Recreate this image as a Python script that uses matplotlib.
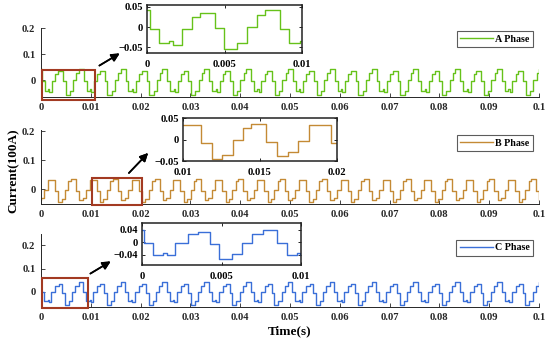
import numpy as np
import matplotlib
matplotlib.use("Agg")
import matplotlib.pyplot as plt
from matplotlib.patches import Rectangle

plt.rcParams['font.family'] = ['Liberation Serif', 'DejaVu Serif']
plt.rcParams['font.weight'] = 'bold'
plt.rcParams['axes.labelweight'] = 'bold'

# ---- data (two consecutive cycles per phase, ms / per-unit current) ----
phase_names = ['A Phase', 'B Phase', 'C Phase']
phase_colors = ['#66C21A', '#C48A35', '#3A6FD8']

a_start = 0.2 - 8.4
a_durs = [0.55, 0.70, 0.25, 0.55, 0.65, 0.55, 0.95,
          0.55, 0.85, 0.65, 0.65, 0.50, 1.00]
a_levels = [-0.004, -0.040, -0.035, -0.046, -0.004, 0.026, 0.034,
            -0.003, -0.056, -0.040, 0.000, 0.030, 0.042]

b_start = 11.2 - 16.8
b_durs = [0.70, 0.65, 0.70, 0.65, 0.50, 1.00,
          0.70, 0.70, 0.70, 0.70, 1.40]
b_levels = [-0.007, -0.045, -0.035, -0.002, 0.027, 0.035,
            -0.006, -0.038, -0.030, -0.004, 0.033]

c_start = 0.1 - 8.4
c_durs = [0.60, 0.65, 0.20, 0.55, 0.80, 0.65, 0.75,
          0.55, 0.80, 0.65, 0.60, 0.70, 0.90]
c_levels = [-0.002, -0.040, -0.036, -0.041, -0.002, 0.026, 0.034,
            -0.005, -0.056, -0.039, -0.002, 0.026, 0.041]

main_xticks = [0, 0.01, 0.02, 0.03, 0.04, 0.05, 0.06, 0.07, 0.08, 0.09, 0.1]
main_xticklabels = ['0', '0.01', '0.02', '0.03', '0.04', '0.05', '0.06', '0.07', '0.08', '0.09', '0.1']
main_yticks = [0, 0.1, 0.2]
main_yticklabels = ['0', '0.1', '0.2']

inset_xlims = [(0, 0.01), (0.01, 0.02), (0, 0.01)]
inset_xticks = [[0, 0.005, 0.01], [0.01, 0.015, 0.02], [0, 0.005, 0.01]]
inset_xticklabels = [['0', '0.005', '0.01'], ['0.01', '0.015', '0.02'], ['0', '0.005', '0.01']]
inset_yticks = [[-0.05, 0, 0.05], [-0.05, 0, 0.05], [-0.04, 0, 0.04]]
inset_yticklabels = [['\u22120.05', '0', '0.05'], ['\u22120.05', '0', '0.05'], ['\u22120.04', '0', '0.04']]


def build_steps(start, durs, levels, t_end=101.0):
    durs = np.asarray(durs)
    levels = np.asarray(levels)
    period = durs.sum()
    n = int(np.ceil((t_end - start) / period)) + 1
    d = np.tile(durs, n)
    v = np.tile(levels, n)
    t = start + np.concatenate([[0], np.cumsum(d)])
    v = np.append(v, v[-1])
    return t / 1000.0, v


series = [build_steps(a_start, a_durs, a_levels),
          build_steps(b_start, b_durs, b_levels),
          build_steps(c_start, c_durs, c_levels)]

fig = plt.figure(figsize=(5.5, 3.42), dpi=100)

main_pos = [[0.0745, 0.7164, 0.9055, 0.2016],
            [0.0745, 0.4035, 0.9055, 0.2164],
            [0.0745, 0.1023, 0.9055, 0.2135]]
main_ylims = [(-0.064, 0.201), (-0.052, 0.205), (-0.064, 0.247)]
legend_tops = [0.957, 0.932, 0.918]

inset_pos = [[0.2673, 0.8450, 0.2818, 0.1404],
             [0.3327, 0.5292, 0.2800, 0.1257],
             [0.2582, 0.2251, 0.2891, 0.1228]]
inset_ylims = [(-0.065, 0.055), (-0.05, 0.048), (-0.074, 0.062)]

rects = [(0.0003, -0.0755, 0.0105, 0.1152),
         (0.0102, -0.0555, 0.0101, 0.0938),
         (0.0002, -0.068, 0.0092, 0.129)]

arrows = [((97, 67), (122, 52)),
          ((127, 175), (150, 151)),
          ((88, 275), (113, 260))]

rect_color = '#A33A22'
spine_col = '#262626'

for i in range(3):
    t, v = series[i]
    ax = fig.add_axes(main_pos[i])
    ax.plot(t, v, color=phase_colors[i], lw=1.0, drawstyle='steps-post', label=phase_names[i])
    ax.set_xlim(0, 0.1)
    ax.set_ylim(*main_ylims[i])
    ax.set_xticks(main_xticks)
    ax.set_xticklabels(main_xticklabels)
    ax.set_yticks(main_yticks)
    ax.set_yticklabels(main_yticklabels)
    ax.spines['top'].set_visible(False)
    ax.spines['right'].set_visible(False)
    for s in ['left', 'bottom']:
        ax.spines[s].set_color(spine_col)
        ax.spines[s].set_linewidth(0.7)
    ax.tick_params(direction='in', length=3, width=0.6, labelsize=7.6, colors=spine_col, pad=4)
    ax.patch.set_alpha(0)

    leg = ax.legend(loc='upper right', bbox_to_anchor=(0.988, legend_tops[i]), fontsize=7.2,
                    handlelength=3.3, frameon=True, fancybox=False, borderpad=0.35,
                    handletextpad=0.2, borderaxespad=0)
    leg.get_frame().set_edgecolor('#333333')
    leg.get_frame().set_linewidth(0.8)

    x0, y0, w, h = rects[i]
    ax.add_patch(Rectangle((x0, y0), w, h, fill=False, edgecolor=rect_color, lw=1.5, clip_on=False, zorder=5))

    ins = fig.add_axes(inset_pos[i])
    ins.plot(t, v, color=phase_colors[i], lw=1.0, drawstyle='steps-post')
    ins.set_xlim(*inset_xlims[i])
    ins.set_ylim(*inset_ylims[i])
    ins.set_xticks(inset_xticks[i])
    ins.set_xticklabels(inset_xticklabels[i])
    ins.set_yticks(inset_yticks[i])
    ins.set_yticklabels(inset_yticklabels[i])
    ins.tick_params(direction='in', length=2.5, width=0.6, labelsize=7.6, top=True, right=True, pad=3)
    ins.tick_params(axis='x', pad=5)
    for s in ins.spines.values():
        s.set_linewidth(1.1)
        s.set_color('#222222')

    (tx, ty), (hx, hy) = arrows[i]
    fig.add_artist(plt.annotate('', xy=(hx / 550, 1 - hy / 342), xycoords='figure fraction',
                                xytext=(tx / 550, 1 - ty / 342), textcoords='figure fraction',
                                arrowprops=dict(arrowstyle='-|>', color='black', lw=1.2,
                                                mutation_scale=12)))

fig.text(0.024, 0.50, 'Current(100A)', rotation=90, ha='center', va='center', fontsize=9.5)
fig.text(0.527, 0.032, 'Time(s)', ha='center', va='center', fontsize=9.5)

fig.savefig('out.png', dpi=100)
